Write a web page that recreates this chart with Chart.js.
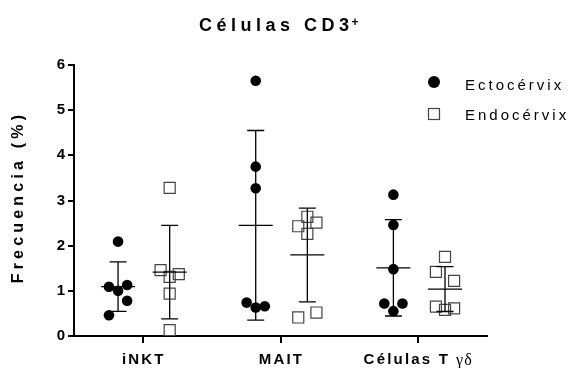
<!DOCTYPE html>
<html>
<head>
<meta charset="utf-8">
<script src="https://cdn.jsdelivr.net/npm/chart.js@4.4.0/dist/chart.umd.min.js"></script>
<style>
  html, body { margin: 0; padding: 0; background: #fff; }
</style>
</head>
<body>
<canvas id="grafico" width="573" height="368"></canvas>
<script>
// données
const categories = ['iNKT', 'MAIT', 'Células T'];
const ectoValues = [
  [2.09, 1.09, 1.13, 1.00, 0.78, 0.46],
  [5.65, 3.75, 3.27, 0.74, 0.63, 0.66],
  [3.13, 2.46, 1.48, 0.72, 0.72, 0.55]
];
const endoValues = [
  [3.28, 1.46, 1.31, 1.37, 0.94, 0.13],
  [2.64, 2.51, 2.43, 2.26, 0.41, 0.52],
  [1.75, 1.42, 1.22, 0.65, 0.58, 0.61]
];
// colonnes de dispersion (-1, 0, 1) de chaque point
const ectoJitter = [
  [0, -1, 1, 0, 1, -1],
  [0, 0, 0, -1, 0, 1],
  [0, 0, 0, -1, 1, 0]
];
const endoJitter = [
  [0, -1, 0, 1, 0, 0],
  [0, 1, -1, 0, -1, 1],
  [0, -1, 1, -1, 0, 1]
];
const yTicks = [0, 1, 2, 3, 4, 5, 6];

const ECTO_OFF = -0.18, ENDO_OFF = 0.195, JIT = 0.066;
const FONT = "'Liberation Sans', Arial, sans-serif";

function toPoints(vals, jit, off) {
  const out = [];
  vals.forEach((g, i) => g.forEach((v, j) => out.push({ x: i + 0.5 + off + jit[i][j] * JIT, y: v })));
  return out;
}

function meanSd(a) {
  const m = a.reduce((s, v) => s + v, 0) / a.length;
  const sd = Math.sqrt(a.reduce((s, v) => s + (v - m) * (v - m), 0) / (a.length - 1));
  return { m, sd };
}

// barres moyenne ± écart-type
const errorBars = {
  id: 'errorBars',
  afterDatasetsDraw(chart) {
    const { ctx, scales: { x, y } } = chart;
    ctx.save();
    ctx.strokeStyle = '#000';
    ctx.lineWidth = 1.3;
    [[ectoValues, ECTO_OFF], [endoValues, ENDO_OFF]].forEach(([vals, off]) => {
      vals.forEach((g, i) => {
        const { m, sd } = meanSd(g);
        const px = x.getPixelForValue(i + 0.5 + off);
        const pm = y.getPixelForValue(m);
        const pt = y.getPixelForValue(m + sd);
        const pb = y.getPixelForValue(m - sd);
        ctx.beginPath();
        ctx.moveTo(px, pt); ctx.lineTo(px, pb);
        ctx.moveTo(px - 8.5, pt); ctx.lineTo(px + 8.5, pt);
        ctx.moveTo(px - 8.5, pb); ctx.lineTo(px + 8.5, pb);
        ctx.moveTo(px - 17, pm); ctx.lineTo(px + 17, pm);
        ctx.stroke();
      });
    });
    ctx.restore();
  }
};

// titres, étiquettes et légende
const textes = {
  id: 'textes',
  beforeDraw(chart) { chart.ctx.letterSpacing = '0px'; },
  afterDraw(chart) {
    const { ctx, scales: { x } } = chart;
    ctx.save();
    ctx.fillStyle = '#000';

    // titre
    ctx.font = 'bold 18px ' + FONT;
    ctx.letterSpacing = '4.5px';
    ctx.textAlign = 'left';
    ctx.textBaseline = 'alphabetic';
    const t = 'Células CD3';
    ctx.fillText(t, 199, 31);
    const tw = ctx.measureText(t).width;
    ctx.font = 'bold 12px ' + FONT;
    ctx.letterSpacing = '0px';
    ctx.fillText('+', 199 + tw - 2, 26);

    // titre de l'axe y
    ctx.save();
    ctx.translate(19, 199);
    ctx.rotate(-Math.PI / 2);
    ctx.font = 'bold 16px ' + FONT;
    ctx.letterSpacing = '4.2px';
    ctx.textAlign = 'center';
    ctx.textBaseline = 'middle';
    ctx.fillText('Frecuencia (%)', 2, 0);
    ctx.restore();

    // étiquettes de l'axe x
    ctx.textBaseline = 'alphabetic';
    categories.forEach((c, i) => {
      const px = x.getPixelForValue(i + 0.5);
      ctx.font = 'bold 15px ' + FONT;
      ctx.letterSpacing = '2.2px';
      if (i === 2) {
        const w1 = ctx.measureText(c).width;
        ctx.font = '16px "Liberation Serif", serif';
        ctx.letterSpacing = '1px';
        const w2 = ctx.measureText('γδ').width;
        const gap = 6;
        const x0 = px - (w1 + gap + w2) / 2;
        ctx.textAlign = 'left';
        ctx.fillText('γδ', x0 + w1 + gap, 365);
        ctx.font = 'bold 15px ' + FONT;
        ctx.letterSpacing = '2.2px';
        ctx.fillText(c, x0, 364);
      } else {
        ctx.textAlign = 'center';
        ctx.fillText(c, px + 1, 364);
      }
    });

    // légende
    ctx.beginPath();
    ctx.arc(434, 82, 6, 0, Math.PI * 2);
    ctx.fill();
    ctx.strokeStyle = '#444';
    ctx.lineWidth = 1.2;
    ctx.strokeRect(428.5, 108.5, 11, 11);
    ctx.font = '15px ' + FONT;
    ctx.letterSpacing = '3px';
    ctx.textAlign = 'left';
    ctx.fillText('Ectocérvix', 465, 90);
    ctx.fillText('Endocérvix', 465, 120);
    ctx.restore();
  }
};

new Chart(document.getElementById('grafico').getContext('2d'), {
  type: 'scatter',
  data: {
    datasets: [{
      label: 'Ectocérvix',
      data: toPoints(ectoValues, ectoJitter, ECTO_OFF),
      pointStyle: 'circle',
      pointRadius: 5.3,
      backgroundColor: '#000',
      borderColor: '#000',
      borderWidth: 0
    }, {
      label: 'Endocérvix',
      data: toPoints(endoValues, endoJitter, ENDO_OFF),
      pointStyle: 'rect',
      pointRadius: 7.8,
      backgroundColor: 'rgba(0,0,0,0)',
      borderColor: '#444',
      borderWidth: 1.2
    }]
  },
  options: {
    responsive: false,
    animation: false,
    layout: { padding: { top: 65, right: 86, bottom: 0, left: 0 } },
    plugins: {
      legend: { display: false },
      tooltip: { enabled: false },
      title: { display: false }
    },
    scales: {
      x: {
        type: 'linear',
        min: 0,
        max: 3,
        afterBuildTicks: s => { s.ticks = categories.map((c, i) => ({ value: i + 0.5 })); },
        afterFit: s => { s.height = 32; },
        ticks: { display: false },
        grid: { drawOnChartArea: false, drawTicks: true, tickLength: 7, color: '#000', lineWidth: 2 },
        border: { color: '#000', width: 2 }
      },
      y: {
        min: 0,
        max: 6,
        afterBuildTicks: s => { s.ticks = yTicks.map(v => ({ value: v })); },
        afterFit: s => { s.width = 74; },
        ticks: { color: '#000', padding: 3, font: { family: FONT, size: 15, weight: 'bold' } },
        grid: { drawOnChartArea: false, drawTicks: true, tickLength: 6, color: '#000', lineWidth: 2 },
        border: { color: '#000', width: 2 }
      }
    }
  },
  plugins: [errorBars, textes]
});
</script>
</body>
</html>
